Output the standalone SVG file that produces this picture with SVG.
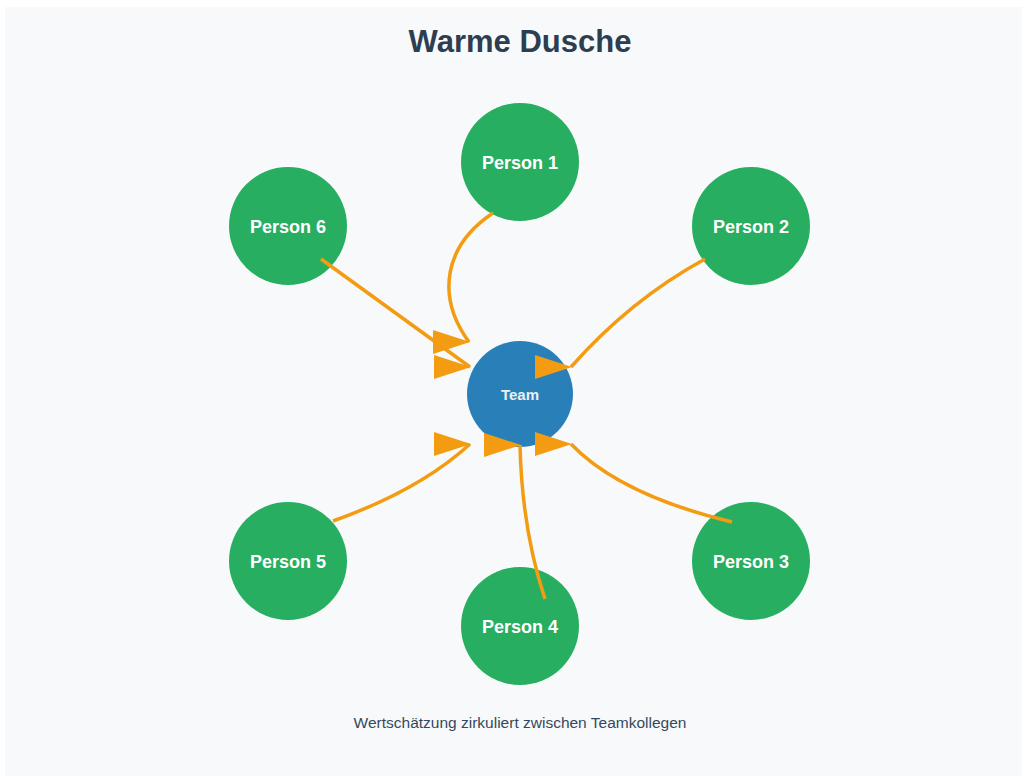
<svg xmlns="http://www.w3.org/2000/svg" width="1027" height="776" viewBox="0 0 1027 776">
  <defs>
    <marker id="arrow" markerUnits="userSpaceOnUse" markerWidth="37" markerHeight="24" viewBox="0 0 37 24" refX="36" refY="12" orient="0">
      <polygon points="0,0 37,12 0,24" fill="#f39c12"/>
    </marker>
  </defs>
  <style>
    .person { fill: #27ae60; }
    .team { fill: #2980b9; }
    .plabel { font-family: "Liberation Sans", Arial, sans-serif; font-weight: bold; font-size: 18px; fill: #ffffff; text-anchor: middle; }
    .tlabel { font-family: "Liberation Sans", Arial, sans-serif; font-weight: bold; font-size: 15px; fill: #ecf0f1; text-anchor: middle; }
    .conn { fill: none; stroke: #f39c12; stroke-width: 3.5; marker-end: url(#arrow); }
    .title { font-family: "Liberation Sans", Arial, sans-serif; font-weight: bold; font-size: 31px; fill: #2c3e50; text-anchor: middle; }
    .sub { font-family: "Liberation Sans", Arial, sans-serif; font-size: 15.5px; fill: #34495e; text-anchor: middle; }
  </style>
  <rect x="0" y="0" width="1027" height="776" fill="#ffffff"/>
  <rect x="5" y="7" width="1017" height="769" fill="#f8f9fa"/>
  <text class="title" x="520" y="52">Warme Dusche</text>

  <g id="team">
    <circle class="team" cx="520" cy="394" r="53"/>
    <text class="tlabel" x="520" y="399.5">Team</text>
  </g>
  <g id="person1">
    <circle class="person" cx="520" cy="162" r="59"/>
    <text class="plabel" x="520" y="168.5">Person 1</text>
  </g>
  <g id="person2">
    <circle class="person" cx="751" cy="226" r="59"/>
    <text class="plabel" x="751" y="232.5">Person 2</text>
  </g>
  <g id="person3">
    <circle class="person" cx="751" cy="561" r="59"/>
    <text class="plabel" x="751" y="567.5">Person 3</text>
  </g>
  <g id="person4">
    <circle class="person" cx="520" cy="626" r="59"/>
    <text class="plabel" x="520" y="632.5">Person 4</text>
  </g>
  <g id="person5">
    <circle class="person" cx="288" cy="561" r="59"/>
    <text class="plabel" x="288" y="567.5">Person 5</text>
  </g>
  <g id="person6">
    <circle class="person" cx="288" cy="226" r="59"/>
    <text class="plabel" x="288" y="232.5">Person 6</text>
  </g>

  <g id="connectors">
    <path class="conn" d="M493,213 C445,245 435,295 469,342"/>
    <path class="conn" d="M705,259 Q630,300 571,367"/>
    <path class="conn" d="M732,522 Q620,495 571,444"/>
    <path class="conn" d="M545,599 Q522,530 520,445"/>
    <path class="conn" d="M333,521 Q420,490 470,444"/>
    <path class="conn" d="M321,259 L470,367"/>
  </g>

  <text class="sub" x="520" y="728">Wertschätzung zirkuliert zwischen Teamkollegen</text>
</svg>
